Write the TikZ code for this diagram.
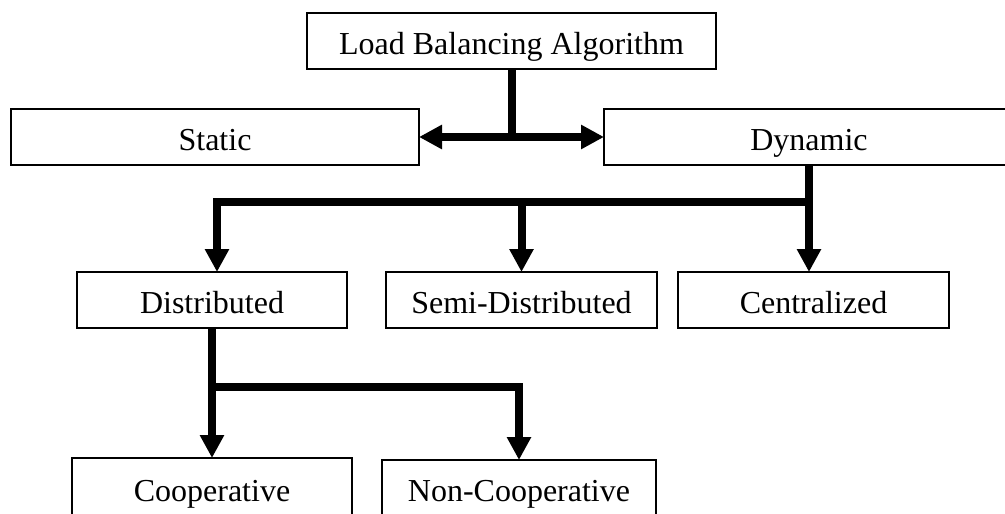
\documentclass[tikz,border=0pt]{standalone}
\usepackage{fontspec}
\setmainfont{Liberation Serif}
\usetikzlibrary{arrows.meta}

\tikzset{
  box/.style={draw=black, line width=2.5pt, fill=white, inner sep=0pt, outer sep=0pt,
    minimum height=56pt, text height=28pt, text depth=2pt,
    font=\fontsize{32}{38}\selectfont},
  link/.style={draw=black, line width=8pt, line join=miter},
  tip/.style={-{Triangle[length=23pt,width=23pt]}}
}

\begin{document}
\begin{tikzpicture}[x=1pt, y=-1pt]
  \fill[white] (0,0) rectangle (1005,514);
  \useasboundingbox (0,0) rectangle (1005,514);

  % level 0
  \node[box, minimum width=409pt] (top) at (511.5,41) {Load Balancing Algorithm};

  % level 1
  \node[box, minimum width=408pt] (static) at (215,137) {Static};
  \node[box, minimum width=410pt] (dyn) at (809,137) {Dynamic};

  % level 2
  \node[box, minimum width=270pt] (dist) at (212,300) {Distributed};
  \node[box, minimum width=271pt] (semi) at (521.5,300) {Semi-Distributed};
  \node[box, minimum width=271pt] (cent) at (813.5,300) {Centralized};

  % level 3
  \node[box, minimum width=280pt, minimum height=60pt] (coop) at (212,488) {Cooperative};
  \node[box, minimum width=274pt] (noncoop) at (519,488) {Non-Cooperative};

  % junction points
  \coordinate (j1) at (top.south |- static.east);
  \coordinate (b1) at (809,201.5);
  \coordinate (b2) at (212,387);

  % top split
  \draw[link] (top.south) -- (j1);
  \draw[link, tip] (j1) -- (static.east);
  \draw[link, tip] (j1) -- (dyn.west);

  % dynamic branches
  \draw[link, tip] (dyn.south) -- (dyn.south |- cent.north);
  \draw[link, tip] (b1) -| ([xshift=5pt]dist.north);
  \draw[link, tip] (semi.north |- b1) -- (semi.north);

  % distributed branches
  \draw[link, tip] (dist.south) -- (coop.north);
  \draw[link, tip] (b2) -| (noncoop.north);
\end{tikzpicture}
\end{document}
